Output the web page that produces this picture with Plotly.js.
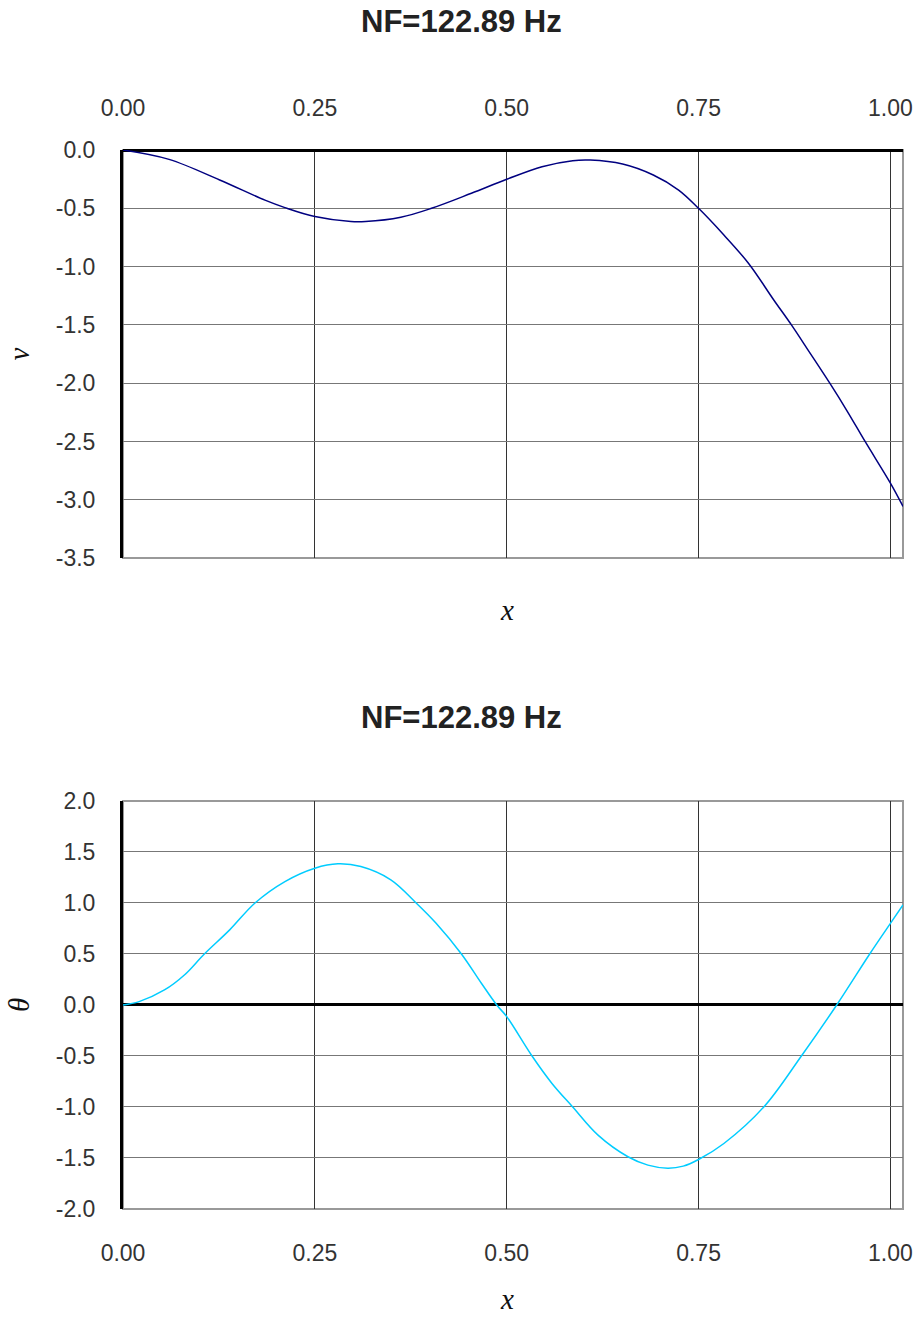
<!DOCTYPE html>
<html>
<head>
<meta charset="utf-8">
<script src="https://cdn.plot.ly/plotly-3.0.1.min.js"></script>
<style>html,body{margin:0;padding:0;background:#fff;}#chart{width:918px;height:1319px;}</style>
</head>
<body>
<div id="chart"></div>
<script>
const chartTitle = "NF=122.89 Hz";
const xTickVals = [0, 0.25, 0.5, 0.75, 1.0];
const xTickText = ["0.00", "0.25", "0.50", "0.75", "1.00"];
const vTickVals = [0, -0.5, -1, -1.5, -2, -2.5, -3, -3.5];
const vTickText = ["0.0", "-0.5", "-1.0", "-1.5", "-2.0", "-2.5", "-3.0", "-3.5"];
const thetaTickVals = [2, 1.5, 1, 0.5, 0, -0.5, -1, -1.5, -2];
const thetaTickText = ["2.0", "1.5", "1.0", "0.5", "0.0", "-0.5", "-1.0", "-1.5", "-2.0"];

const xV = [0, 0.060, 0.126, 0.185, 0.211, 0.25, 0.297, 0.316, 0.362, 0.402, 0.454, 0.5, 0.546, 0.586, 0.609, 0.651, 0.691, 0.724, 0.75, 0.783, 0.815, 0.848, 0.871, 0.894, 0.921, 0.944, 0.967, 1.0, 1.0164];
const vVals = [0, -0.08, -0.257, -0.43, -0.494, -0.571, -0.614, -0.614, -0.577, -0.5, -0.371, -0.251, -0.143, -0.091, -0.086, -0.12, -0.214, -0.343, -0.5, -0.729, -0.971, -1.286, -1.5, -1.729, -2.0, -2.243, -2.5, -2.857, -3.057];

const xT = [0, 0.021, 0.054, 0.080, 0.106, 0.139, 0.172, 0.211, 0.25, 0.280, 0.310, 0.349, 0.382, 0.408, 0.441, 0.467, 0.487, 0.5, 0.533, 0.559, 0.586, 0.619, 0.658, 0.684, 0.710, 0.730, 0.75, 0.783, 0.835, 0.884, 0.930, 0.973, 1.0, 1.0164];
const thetaVals = [0, 0.033, 0.147, 0.294, 0.5, 0.736, 1.0, 1.21, 1.341, 1.384, 1.357, 1.227, 1.0, 0.801, 0.5, 0.213, 0, -0.114, -0.5, -0.769, -1.0, -1.276, -1.488, -1.57, -1.6, -1.58, -1.515, -1.358, -1.0, -0.5, 0, 0.5, 0.80, 0.98];

const tickFont = {family: "Liberation Sans, Arial, sans-serif", size: 23, color: "#333"};
const serif = {family: "Liberation Serif, Times New Roman, serif", size: 29, color: "#111"};
const titleFont = {family: "Liberation Sans, Arial, sans-serif", size: 31, color: "#222"};

const traces = [
  {x: xV, y: vVals, type: "scatter", mode: "lines", line: {color: "#000080", width: 1.5, shape: "spline", smoothing: 1}, xaxis: "x", yaxis: "y", hoverinfo: "skip"},
  {x: xT, y: thetaVals, type: "scatter", mode: "lines", line: {color: "#00CCFF", width: 1.5, shape: "spline", smoothing: 1}, xaxis: "x2", yaxis: "y2", hoverinfo: "skip"}
];

const xCommon = {
  range: [0, 1.0164], tickvals: xTickVals, ticktext: xTickText, showgrid: true, gridcolor: "#333", gridwidth: 1,
  zeroline: false, showline: false, ticks: "", tickfont: tickFont, fixedrange: true, ticklabelstandoff: 28
};
const yCommon = {
  showgrid: true, gridcolor: "#777", gridwidth: 1,
  zeroline: true, zerolinecolor: "#000", zerolinewidth: 3,
  showline: true, linecolor: "#000", linewidth: 3, ticks: "", tickfont: tickFont,
  ticklabelstandoff: 20, fixedrange: true
};

const layout = {
  width: 918, height: 1319,
  margin: {l: 123, r: 15, t: 0, b: 20},
  paper_bgcolor: "#fff", plot_bgcolor: "#fff",
  showlegend: false,
  xaxis: Object.assign({}, xCommon, {domain: [0, 1], anchor: "y", side: "top"}),
  yaxis: Object.assign({}, yCommon, {domain: [0.5704, 0.8845], anchor: "x", range: [-3.5, 0],
    tickvals: vTickVals, ticktext: vTickText,
    title: {text: "<i>v</i>", font: serif, standoff: 18}}),
  xaxis2: Object.assign({}, xCommon, {domain: [0, 1], anchor: "y2", side: "bottom"}),
  yaxis2: Object.assign({}, yCommon, {domain: [0.0693, 0.3834], anchor: "x2", range: [-2, 2],
    tickvals: thetaTickVals, ticktext: thetaTickText,
    title: {text: "<i>θ</i>", font: serif, standoff: 18}}),
  shapes: [
    {type: "rect", xref: "x domain", yref: "y domain", x0: 0, x1: 1, y0: 0, y1: 1, line: {color: "#999", width: 2}, layer: "below"},
    {type: "rect", xref: "x2 domain", yref: "y2 domain", x0: 0, x1: 1, y0: 0, y1: 1, line: {color: "#999", width: 2}, layer: "below"}
  ],
  annotations: [
    {text: "<b>" + chartTitle + "</b>", xref: "paper", yref: "paper", x: 0.4346, y: 0.9831, xanchor: "center", yanchor: "middle", showarrow: false, font: titleFont},
    {text: "<b>" + chartTitle + "</b>", xref: "paper", yref: "paper", x: 0.4346, y: 0.4480, xanchor: "center", yanchor: "middle", showarrow: false, font: titleFont},
    {text: "<i>x</i>", xref: "paper", yref: "paper", x: 0.4923, y: 0.5304, xanchor: "center", yanchor: "middle", showarrow: false, font: serif},
    {text: "<i>x</i>", xref: "paper", yref: "paper", x: 0.4923, y: 0.0, xanchor: "center", yanchor: "middle", showarrow: false, font: serif}
  ]
};

Plotly.newPlot("chart", traces, layout, {displayModeBar: false, staticPlot: true});
</script>
</body>
</html>
